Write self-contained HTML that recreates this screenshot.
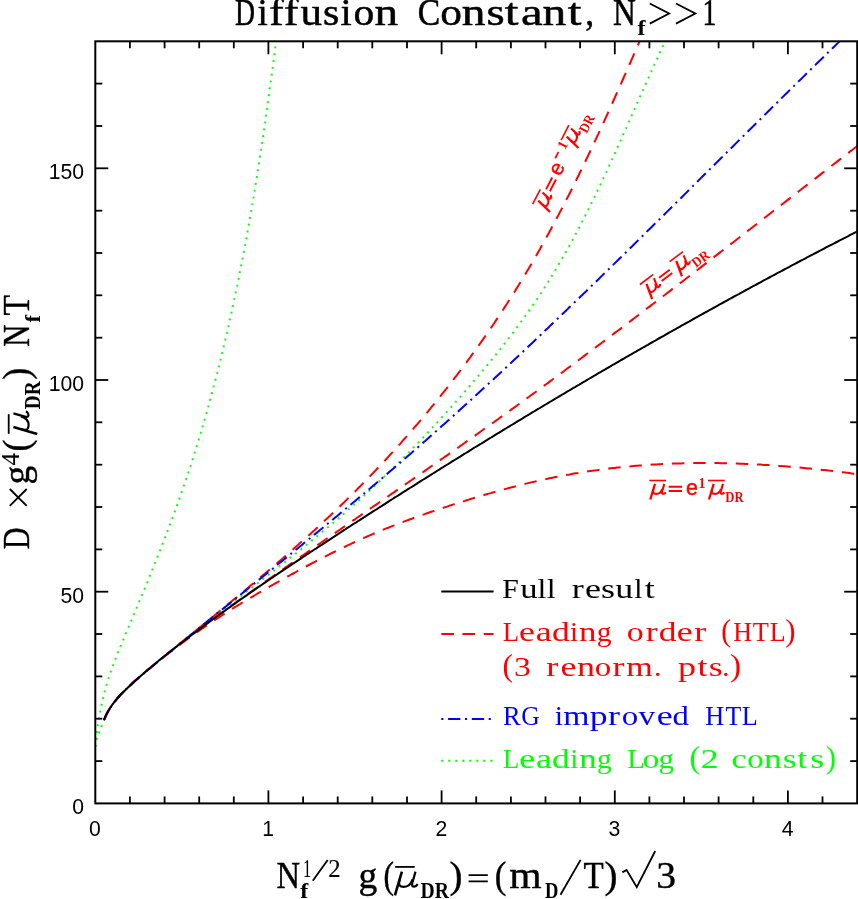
<!DOCTYPE html>
<html><head><meta charset="utf-8"><title>Diffusion Constant</title>
<style>html,body{margin:0;padding:0;background:#fff;overflow:hidden}svg{display:block;will-change:transform;transform:translateZ(0)}text{font-family:"Liberation Serif",serif}.s{font-family:"Liberation Sans",sans-serif}</style>
</head><body>
<svg width="858" height="899" viewBox="0 0 858 899">
<rect width="858" height="899" fill="#fff"/>
<defs><clipPath id="c"><rect x="95.3" y="41.29799999999989" width="766.8600000000001" height="762.1020000000001"/></clipPath></defs>
<g clip-path="url(#c)" fill="none" stroke-width="2">
<path d="M95.5,746.7 L95.6,744.9 L95.8,743.0 L96.0,741.1 L96.2,739.2 L96.4,737.3 L96.6,735.4 L96.8,733.6 L97.0,731.7 L97.3,729.8 L97.5,728.0 L97.8,726.1 L98.0,724.3 L98.3,722.4 L98.6,720.6 L98.9,718.8 L99.2,716.9 L99.5,715.1 L99.9,713.3 L100.2,711.5 L100.5,709.6 L100.9,707.8 L101.3,706.0 L101.7,704.2 L102.1,702.4 L102.5,700.6 L102.9,698.8 L103.3,697.0 L103.7,695.2 L104.2,693.4 L104.7,691.6 L105.1,689.8 L105.6,688.0 L106.1,686.3 L106.6,684.5 L107.2,682.7 L107.7,680.9 L108.2,679.2 L108.8,677.4 L109.4,675.6 L110.0,673.9 L110.6,672.1 L111.2,670.3 L111.8,668.6 L112.4,666.8 L113.1,665.1 L113.7,663.3 L114.4,661.6 L115.1,659.8 L115.8,658.1 L116.4,656.3 L117.1,654.6 L117.8,652.8 L118.5,651.1 L119.3,649.4 L120.0,647.6 L120.7,645.9 L121.4,644.1 L122.1,642.4 L122.9,640.7 L123.6,638.9 L124.3,637.2 L125.0,635.5 L125.8,633.7 L126.5,632.0 L127.2,630.3 L128.0,628.6 L128.7,626.8 L129.4,625.1 L130.1,623.4 L130.9,621.7 L131.6,619.9 L132.3,618.2 L133.0,616.5 L133.8,614.7 L134.5,613.0 L135.2,611.3 L135.9,609.6 L136.7,607.8 L137.4,606.1 L138.1,604.4 L138.8,602.7 L139.6,600.9 L140.3,599.2 L141.0,597.5 L141.7,595.8 L142.4,594.0 L143.1,592.3 L143.8,590.6 L144.6,588.9 L145.3,587.1 L146.0,585.4 L146.7,583.7 L147.4,582.0 L148.1,580.2 L148.8,578.5 L149.5,576.8 L150.2,575.1 L150.9,573.3 L151.6,571.6 L152.3,569.9 L153.0,568.2 L153.7,566.4 L154.4,564.7 L155.1,563.0 L155.8,561.2 L156.5,559.5 L157.2,557.8 L157.9,556.1 L158.6,554.3 L159.2,552.6 L159.9,550.9 L160.6,549.1 L161.3,547.4 L162.0,545.7 L162.6,543.9 L163.3,542.2 L164.0,540.5 L164.6,538.7 L165.3,537.0 L166.0,535.3 L166.6,533.5 L167.3,531.8 L168.0,530.0 L168.6,528.3 L169.3,526.6 L169.9,524.8 L170.6,523.1 L171.2,521.3 L171.9,519.6 L172.5,517.9 L173.2,516.1 L173.8,514.4 L174.5,512.6 L175.1,510.9 L175.7,509.1 L176.4,507.4 L177.0,505.6 L177.6,503.9 L178.2,502.1 L178.9,500.4 L179.5,498.6 L180.1,496.9 L180.7,495.1 L181.3,493.3 L181.9,491.6 L182.5,489.8 L183.1,488.1 L183.7,486.3 L184.3,484.5 L184.9,482.8 L185.5,481.0 L186.1,479.3 L186.7,477.5 L187.3,475.7 L187.9,474.0 L188.5,472.2 L189.1,470.4 L189.6,468.6 L190.2,466.9 L190.8,465.1 L191.4,463.3 L191.9,461.6 L192.5,459.8 L193.1,458.0 L193.6,456.2 L194.2,454.5 L194.7,452.7 L195.3,450.9 L195.8,449.1 L196.4,447.3 L196.9,445.6 L197.5,443.8 L198.0,442.0 L198.6,440.2 L199.1,438.4 L199.6,436.6 L200.2,434.9 L200.7,433.1 L201.2,431.3 L201.8,429.5 L202.3,427.7 L202.8,425.9 L203.3,424.1 L203.8,422.3 L204.4,420.5 L204.9,418.7 L205.4,416.9 L205.9,415.1 L206.4,413.4 L206.9,411.6 L207.4,409.8 L207.9,408.0 L208.4,406.2 L208.9,404.4 L209.4,402.6 L209.9,400.8 L210.4,399.0 L210.9,397.2 L211.4,395.4 L211.9,393.6 L212.3,391.7 L212.8,389.9 L213.3,388.1 L213.8,386.3 L214.2,384.5 L214.7,382.7 L215.2,380.9 L215.7,379.1 L216.1,377.3 L216.6,375.5 L217.1,373.7 L217.5,371.9 L218.0,370.0 L218.4,368.2 L218.9,366.4 L219.3,364.6 L219.8,362.8 L220.2,361.0 L220.7,359.2 L221.1,357.3 L221.6,355.5 L222.0,353.7 L222.5,351.9 L222.9,350.1 L223.3,348.3 L223.8,346.4 L224.2,344.6 L224.6,342.8 L225.0,341.0 L225.5,339.1 L225.9,337.3 L226.3,335.5 L226.7,333.7 L227.2,331.9 L227.6,330.0 L228.0,328.2 L228.4,326.4 L228.8,324.6 L229.2,322.7 L229.6,320.9 L230.0,319.1 L230.5,317.2 L230.9,315.4 L231.3,313.6 L231.7,311.8 L232.1,309.9 L232.5,308.1 L232.8,306.3 L233.2,304.4 L233.6,302.6 L234.0,300.8 L234.4,298.9 L234.8,297.1 L235.2,295.3 L235.6,293.4 L235.9,291.6 L236.3,289.8 L236.7,287.9 L237.1,286.1 L237.5,284.3 L237.8,282.4 L238.2,280.6 L238.6,278.8 L238.9,276.9 L239.3,275.1 L239.7,273.3 L240.0,271.4 L240.4,269.6 L240.8,267.7 L241.1,265.9 L241.5,264.1 L241.8,262.2 L242.2,260.4 L242.6,258.5 L242.9,256.7 L243.3,254.9 L243.6,253.0 L244.0,251.2 L244.3,249.3 L244.6,247.5 L245.0,245.7 L245.3,243.8 L245.7,242.0 L246.0,240.1 L246.4,238.3 L246.7,236.5 L247.0,234.6 L247.4,232.8 L247.7,230.9 L248.0,229.1 L248.4,227.2 L248.7,225.4 L249.0,223.5 L249.3,221.7 L249.7,219.9 L250.0,218.0 L250.3,216.2 L250.6,214.3 L250.9,212.5 L251.3,210.6 L251.6,208.8 L251.9,206.9 L252.2,205.1 L252.5,203.2 L252.8,201.4 L253.1,199.6 L253.5,197.7 L253.8,195.9 L254.1,194.0 L254.4,192.2 L254.7,190.3 L255.0,188.5 L255.3,186.6 L255.6,184.8 L255.9,182.9 L256.2,181.1 L256.5,179.2 L256.8,177.4 L257.1,175.5 L257.4,173.7 L257.7,171.9 L258.0,170.0 L258.2,168.2 L258.5,166.3 L258.8,164.5 L259.1,162.6 L259.4,160.8 L259.7,158.9 L260.0,157.1 L260.3,155.2 L260.5,153.4 L260.8,151.5 L261.1,149.7 L261.4,147.8 L261.7,146.0 L261.9,144.1 L262.2,142.3 L262.5,140.4 L262.8,138.6 L263.0,136.8 L263.3,134.9 L263.6,133.1 L263.9,131.2 L264.1,129.4 L264.4,127.5 L264.7,125.7 L264.9,123.8 L265.2,122.0 L265.5,120.1 L265.7,118.3 L266.0,116.4 L266.2,114.6 L266.5,112.8 L266.8,110.9 L267.0,109.1 L267.3,107.2 L267.5,105.4 L267.8,103.5 L268.1,101.7 L268.3,99.8 L268.6,98.0 L268.8,96.1 L269.1,94.3 L269.3,92.5 L269.6,90.6 L269.8,88.8 L270.1,86.9 L270.3,85.1 L270.6,83.2 L270.8,81.4 L271.1,79.6 L271.3,77.7 L271.6,75.9 L271.8,74.0 L272.1,72.2 L272.3,70.3 L272.6,68.5 L272.8,66.7 L273.0,64.8 L273.3,63.0 L273.5,61.1 L273.8,59.3 L274.0,57.5 L274.2,55.6 L274.5,53.8 L274.7,52.0 L275.0,50.1 L275.2,48.3 L275.4,46.4 L275.7,44.6 L275.9,42.8 L276.1,40.9 L276.4,39.1 L276.6,37.3 L276.8,35.4 L277.1,33.6 L277.3,31.8 L277.5,29.9 L277.8,28.1" stroke="#0f0" stroke-dasharray="1.9 5.0" stroke-dashoffset="0.0" stroke-width="1.9"/>
<path d="M95.4,746.6 L95.5,744.4 L95.8,742.2 L96.4,739.9 L97.2,737.7 L98.0,735.4 L99.0,733.2 L99.9,730.9 L100.8,728.7 L101.6,726.5 L102.4,724.3 L103.3,722.1 L104.1,719.9 L105.1,717.8 L106.1,715.7 L107.1,713.6 L108.2,711.5 L109.3,709.5 L110.5,707.5 L111.8,705.5 L113.1,703.6 L114.5,701.7 L115.9,699.9 L117.4,698.1 L118.9,696.3 L120.5,694.6 L122.1,692.8 L123.8,691.2 L125.5,689.5 L127.2,687.9 L128.9,686.3 L130.7,684.7 L132.5,683.1 L134.2,681.6 L136.1,680.1 L137.9,678.5 L139.7,677.0 L141.5,675.5 L143.3,674.0 L145.1,672.5 L146.9,670.9 L148.7,669.4 L150.5,667.9 L152.3,666.4 L154.1,664.9 L155.9,663.4 L157.7,661.9 L159.5,660.5 L161.3,659.0 L163.1,657.5 L164.9,656.0 L166.7,654.5 L168.5,653.0 L170.3,651.5 L172.1,650.1 L173.9,648.6 L175.7,647.1 L177.5,645.7 L179.4,644.2 L181.2,642.7 L183.0,641.3 L184.8,639.8 L186.7,638.3 L188.5,636.9 L190.3,635.4 L192.2,634.0 L194.0,632.5 L195.9,631.0 L197.7,629.6 L199.6,628.1 L201.4,626.7 L203.3,625.2 L205.1,623.8 L207.0,622.3 L208.8,620.9 L210.7,619.4 L212.5,618.0 L214.4,616.6 L216.3,615.1 L218.1,613.7 L220.0,612.2 L221.9,610.8 L223.7,609.3 L225.6,607.9 L227.5,606.5 L229.3,605.0 L231.2,603.6 L233.1,602.1 L234.9,600.7 L236.8,599.3 L238.7,597.8 L240.6,596.4 L242.4,595.0 L244.3,593.5 L246.2,592.1 L248.1,590.6 L249.9,589.2 L251.8,587.7 L253.7,586.3 L255.6,584.9 L257.4,583.4 L259.3,582.0 L261.2,580.5 L263.0,579.1 L264.9,577.6 L266.8,576.2 L268.6,574.8 L270.5,573.3 L272.4,571.9 L274.3,570.4 L276.1,569.0 L278.0,567.5 L279.8,566.0 L281.7,564.6 L283.6,563.1 L285.4,561.7 L287.3,560.2 L289.1,558.8 L291.0,557.3 L292.8,555.8 L294.7,554.4 L296.5,552.9 L298.4,551.4 L300.2,550.0 L302.1,548.5 L303.9,547.0 L305.7,545.5 L307.6,544.1 L309.4,542.6 L311.2,541.1 L313.0,539.6 L314.9,538.1 L316.7,536.6 L318.5,535.1 L320.3,533.6 L322.1,532.1 L323.9,530.6 L325.7,529.1 L327.5,527.6 L329.3,526.1 L331.1,524.6 L332.9,523.1 L334.7,521.6 L336.5,520.0 L338.3,518.5 L340.0,517.0 L341.8,515.5 L343.6,513.9 L345.3,512.4 L347.1,510.9 L348.8,509.3 L350.6,507.8 L352.3,506.2 L354.1,504.7 L355.8,503.1 L357.6,501.5 L359.3,500.0 L361.0,498.4 L362.7,496.8 L364.5,495.3 L366.2,493.7 L367.9,492.1 L369.6,490.5 L371.3,488.9 L373.0,487.3 L374.7,485.8 L376.4,484.2 L378.1,482.6 L379.8,481.0 L381.5,479.3 L383.1,477.7 L384.8,476.1 L386.5,474.5 L388.2,472.9 L389.8,471.3 L391.5,469.6 L393.2,468.0 L394.8,466.4 L396.5,464.7 L398.1,463.1 L399.8,461.5 L401.4,459.8 L403.1,458.2 L404.7,456.5 L406.3,454.8 L408.0,453.2 L409.6,451.5 L411.2,449.9 L412.9,448.2 L414.5,446.5 L416.1,444.8 L417.7,443.2 L419.3,441.5 L421.0,439.8 L422.6,438.1 L424.2,436.4 L425.8,434.7 L427.4,433.0 L429.0,431.3 L430.6,429.6 L432.2,427.9 L433.8,426.2 L435.4,424.5 L437.0,422.7 L438.6,421.0 L440.1,419.3 L441.7,417.5 L443.3,415.8 L444.9,414.1 L446.5,412.3 L448.0,410.6 L449.6,408.8 L451.2,407.1 L452.8,405.3 L454.3,403.6 L455.9,401.8 L457.5,400.0 L459.0,398.3 L460.6,396.5 L462.1,394.7 L463.7,393.0 L465.3,391.2 L466.8,389.4 L468.4,387.6 L469.9,385.8 L471.5,384.0 L473.0,382.2 L474.5,380.4 L476.1,378.6 L477.6,376.8 L479.1,375.0 L480.7,373.2 L482.2,371.3 L483.7,369.5 L485.2,367.7 L486.8,365.8 L488.3,364.0 L489.8,362.2 L491.3,360.3 L492.8,358.5 L494.3,356.6 L495.8,354.8 L497.2,352.9 L498.7,351.1 L500.2,349.2 L501.7,347.3 L503.1,345.5 L504.6,343.6 L506.1,341.7 L507.5,339.8 L509.0,338.0 L510.4,336.1 L511.8,334.2 L513.3,332.3 L514.7,330.4 L516.1,328.5 L517.5,326.6 L518.9,324.7 L520.3,322.8 L521.7,320.9 L523.1,318.9 L524.5,317.0 L525.9,315.1 L527.3,313.2 L528.6,311.2 L530.0,309.3 L531.3,307.4 L532.7,305.4 L534.0,303.5 L535.3,301.5 L536.7,299.6 L538.0,297.6 L539.3,295.6 L540.6,293.7 L541.9,291.7 L543.1,289.7 L544.4,287.8 L545.7,285.8 L546.9,283.8 L548.2,281.8 L549.4,279.8 L550.7,277.8 L551.9,275.8 L553.1,273.8 L554.3,271.8 L555.5,269.8 L556.7,267.8 L557.9,265.8 L559.1,263.8 L560.3,261.8 L561.5,259.7 L562.6,257.7 L563.8,255.7 L565.0,253.7 L566.1,251.6 L567.2,249.6 L568.4,247.6 L569.5,245.5 L570.6,243.5 L571.8,241.4 L572.9,239.4 L574.0,237.3 L575.1,235.3 L576.2,233.2 L577.3,231.1 L578.4,229.1 L579.4,227.0 L580.5,225.0 L581.6,222.9 L582.6,220.8 L583.7,218.7 L584.8,216.7 L585.8,214.6 L586.9,212.5 L587.9,210.4 L588.9,208.3 L590.0,206.2 L591.0,204.1 L592.0,202.1 L593.1,200.0 L594.1,197.9 L595.1,195.8 L596.1,193.7 L597.1,191.6 L598.1,189.5 L599.1,187.4 L600.1,185.2 L601.1,183.1 L602.1,181.0 L603.1,178.9 L604.1,176.8 L605.1,174.7 L606.1,172.6 L607.1,170.4 L608.0,168.3 L609.0,166.2 L610.0,164.1 L611.0,162.0 L611.9,159.8 L612.9,157.7 L613.9,155.6 L614.8,153.4 L615.8,151.3 L616.7,149.2 L617.7,147.0 L618.7,144.9 L619.6,142.8 L620.6,140.6 L621.5,138.5 L622.5,136.4 L623.4,134.2 L624.4,132.1 L625.3,129.9 L626.3,127.8 L627.2,125.7 L628.2,123.5 L629.1,121.4 L630.1,119.2 L631.0,117.1 L632.0,114.9 L632.9,112.8 L633.9,110.6 L634.8,108.5 L635.8,106.3 L636.7,104.2 L637.7,102.0 L638.6,99.9 L639.6,97.7 L640.5,95.6 L641.5,93.4 L642.5,91.3 L643.4,89.1 L644.4,87.0 L645.3,84.8 L646.3,82.7 L647.2,80.5 L648.2,78.4 L649.2,76.2 L650.1,74.1 L651.1,71.9 L652.1,69.8 L653.1,67.6 L654.0,65.5 L655.0,63.3 L656.0,61.2 L657.0,59.0 L658.0,56.9 L658.9,54.7 L659.9,52.6 L660.9,50.4 L661.9,48.3 L662.9,46.1 L663.9,44.0 L664.9,41.8 L665.9,39.7 L667.0,37.5 L668.0,35.4 L669.0,33.2 L670.0,31.1 L671.0,29.0" stroke="#0f0" stroke-dasharray="1.9 5.0" stroke-dashoffset="0.0" stroke-width="1.9"/>
<path d="M104.1,720.0 L104.8,718.0 L105.7,715.9 L106.7,713.9 L107.7,712.0 L108.8,710.1 L109.9,708.2 L111.2,706.4 L112.4,704.5 L113.8,702.8 L115.1,701.0 L116.6,699.3 L118.0,697.6 L119.5,695.9 L121.1,694.3 L122.7,692.7 L124.2,691.1 L125.9,689.5 L127.5,687.9 L129.1,686.4 L130.8,684.9 L132.4,683.4 L134.1,681.8 L135.7,680.4 L137.4,678.9 L139.1,677.4 L140.8,676.0 L142.4,674.5 L144.1,673.1 L145.8,671.6 L147.5,670.2 L149.2,668.8 L150.9,667.3 L152.6,665.9 L154.3,664.5 L156.1,663.1 L157.8,661.7 L159.5,660.2 L161.2,658.8 L162.9,657.4 L164.7,656.0 L166.4,654.6 L168.1,653.1 L169.9,651.7 L171.6,650.3 L173.3,648.9 L175.1,647.5 L176.8,646.1 L178.5,644.6 L180.3,643.2 L182.0,641.8 L183.8,640.4 L185.5,639.0 L187.3,637.6 L189.0,636.2 L190.7,634.7 L192.5,633.3 L194.2,631.9 L195.9,630.5 L197.7,629.1 L199.4,627.7 L201.2,626.3 L202.9,624.8 L204.6,623.4 L206.4,622.0 L208.1,620.6 L209.8,619.2 L211.6,617.8 L213.3,616.4 L215.0,615.0 L216.8,613.5 L218.5,612.1 L220.2,610.7 L222.0,609.3 L223.7,607.9 L225.4,606.5 L227.1,605.1 L228.9,603.6 L230.6,602.2 L232.3,600.8 L234.0,599.4 L235.8,598.0 L237.5,596.5 L239.2,595.1 L240.9,593.7 L242.6,592.3 L244.3,590.9 L246.1,589.4 L247.8,588.0 L249.5,586.6 L251.2,585.1 L252.9,583.7 L254.6,582.3 L256.3,580.9 L258.0,579.4 L259.7,578.0 L261.4,576.6 L263.1,575.1 L264.8,573.7 L266.5,572.2 L268.2,570.8 L269.9,569.4 L271.6,567.9 L273.3,566.5 L275.0,565.0 L276.7,563.6 L278.4,562.1 L280.0,560.7 L281.7,559.2 L283.4,557.8 L285.1,556.3 L286.8,554.8 L288.4,553.4 L290.1,551.9 L291.8,550.4 L293.5,549.0 L295.1,547.5 L296.8,546.0 L298.5,544.6 L300.1,543.1 L301.8,541.6 L303.4,540.1 L305.1,538.6 L306.8,537.2 L308.4,535.7 L310.1,534.2 L311.7,532.7 L313.3,531.2 L315.0,529.7 L316.6,528.2 L318.3,526.7 L319.9,525.2 L321.5,523.7 L323.2,522.1 L324.8,520.6 L326.4,519.1 L328.1,517.6 L329.7,516.1 L331.3,514.5 L332.9,513.0 L334.5,511.5 L336.1,509.9 L337.8,508.4 L339.4,506.8 L341.0,505.3 L342.6,503.7 L344.2,502.2 L345.8,500.6 L347.4,499.1 L348.9,497.5 L350.5,495.9 L352.1,494.4 L353.7,492.8 L355.3,491.2 L356.9,489.6 L358.4,488.0 L360.0,486.5 L361.6,484.9 L363.1,483.3 L364.7,481.7 L366.3,480.1 L367.8,478.5 L369.4,476.9 L370.9,475.3 L372.5,473.6 L374.0,472.0 L375.6,470.4 L377.1,468.8 L378.6,467.2 L380.2,465.5 L381.7,463.9 L383.2,462.3 L384.8,460.6 L386.3,459.0 L387.8,457.3 L389.3,455.7 L390.8,454.0 L392.4,452.4 L393.9,450.7 L395.4,449.1 L396.9,447.4 L398.4,445.7 L399.9,444.1 L401.4,442.4 L402.8,440.7 L404.3,439.0 L405.8,437.4 L407.3,435.7 L408.8,434.0 L410.2,432.3 L411.7,430.6 L413.2,428.9 L414.6,427.2 L416.1,425.5 L417.6,423.8 L419.0,422.1 L420.5,420.4 L421.9,418.7 L423.3,417.0 L424.8,415.3 L426.2,413.5 L427.7,411.8 L429.1,410.1 L430.5,408.4 L431.9,406.6 L433.4,404.9 L434.8,403.2 L436.2,401.4 L437.6,399.7 L439.0,397.9 L440.4,396.2 L441.8,394.4 L443.2,392.7 L444.6,390.9 L446.0,389.2 L447.4,387.4 L448.7,385.6 L450.1,383.9 L451.5,382.1 L452.9,380.3 L454.2,378.6 L455.6,376.8 L457.0,375.0 L458.3,373.2 L459.7,371.4 L461.0,369.6 L462.4,367.8 L463.7,366.1 L465.0,364.3 L466.4,362.5 L467.7,360.7 L469.0,358.9 L470.4,357.1 L471.7,355.2 L473.0,353.4 L474.3,351.6 L475.6,349.8 L476.9,348.0 L478.2,346.2 L479.5,344.4 L480.8,342.5 L482.1,340.7 L483.4,338.9 L484.6,337.0 L485.9,335.2 L487.2,333.4 L488.5,331.5 L489.7,329.7 L491.0,327.8 L492.3,326.0 L493.5,324.2 L494.8,322.3 L496.0,320.4 L497.2,318.6 L498.5,316.7 L499.7,314.9 L500.9,313.0 L502.2,311.2 L503.4,309.3 L504.6,307.4 L505.8,305.5 L507.0,303.7 L508.2,301.8 L509.4,299.9 L510.6,298.0 L511.8,296.2 L513.0,294.3 L514.2,292.4 L515.4,290.5 L516.5,288.6 L517.7,286.7 L518.9,284.8 L520.0,282.9 L521.2,281.0 L522.3,279.1 L523.5,277.2 L524.6,275.3 L525.8,273.4 L526.9,271.5 L528.1,269.6 L529.2,267.7 L530.3,265.8 L531.4,263.9 L532.5,261.9 L533.7,260.0 L534.8,258.1 L535.9,256.2 L537.0,254.3 L538.1,252.3 L539.2,250.4 L540.3,248.5 L541.3,246.5 L542.4,244.6 L543.5,242.7 L544.6,240.7 L545.7,238.8 L546.7,236.8 L547.8,234.9 L548.9,232.9 L549.9,231.0 L551.0,229.1 L552.0,227.1 L553.1,225.1 L554.1,223.2 L555.2,221.2 L556.2,219.3 L557.2,217.3 L558.3,215.4 L559.3,213.4 L560.3,211.4 L561.4,209.5 L562.4,207.5 L563.4,205.5 L564.4,203.5 L565.4,201.6 L566.4,199.6 L567.5,197.6 L568.5,195.6 L569.5,193.7 L570.5,191.7 L571.5,189.7 L572.5,187.7 L573.4,185.7 L574.4,183.7 L575.4,181.7 L576.4,179.8 L577.4,177.8 L578.4,175.8 L579.3,173.8 L580.3,171.8 L581.3,169.8 L582.3,167.8 L583.2,165.8 L584.2,163.8 L585.2,161.8 L586.1,159.8 L587.1,157.8 L588.1,155.7 L589.0,153.7 L590.0,151.7 L590.9,149.7 L591.9,147.7 L592.8,145.7 L593.8,143.7 L594.7,141.6 L595.7,139.6 L596.6,137.6 L597.5,135.6 L598.5,133.6 L599.4,131.5 L600.3,129.5 L601.3,127.5 L602.2,125.5 L603.1,123.4 L604.1,121.4 L605.0,119.4 L605.9,117.3 L606.9,115.3 L607.8,113.3 L608.7,111.2 L609.6,109.2 L610.5,107.1 L611.5,105.1 L612.4,103.1 L613.3,101.0 L614.2,99.0 L615.1,96.9 L616.0,94.9 L617.0,92.8 L617.9,90.8 L618.8,88.7 L619.7,86.7 L620.6,84.6 L621.5,82.6 L622.4,80.5 L623.3,78.5 L624.2,76.4 L625.1,74.4 L626.1,72.3 L627.0,70.2 L627.9,68.2 L628.8,66.1 L629.7,64.1 L630.6,62.0 L631.5,59.9 L632.4,57.9 L633.3,55.8 L634.2,53.7 L635.1,51.7 L636.0,49.6 L636.9,47.5 L637.8,45.5 L638.7,43.4 L639.6,41.3 L640.5,39.3 L641.4,37.2 L642.3,35.1 L643.2,33.0 L644.1,31.0 L645.0,28.9" stroke="#f00" stroke-dasharray="12.5 8.8" stroke-dashoffset="0.3"/>
<path d="M104.0,720.0 L104.9,717.8 L105.9,715.7 L106.9,713.5 L108.1,711.5 L109.3,709.4 L110.6,707.4 L111.9,705.5 L113.3,703.6 L114.8,701.7 L116.3,699.8 L117.8,698.0 L119.4,696.2 L121.0,694.4 L122.7,692.6 L124.3,690.9 L126.0,689.2 L127.7,687.5 L129.4,685.8 L131.2,684.2 L132.9,682.6 L134.7,681.0 L136.5,679.4 L138.3,677.8 L140.1,676.2 L141.9,674.7 L143.8,673.1 L145.6,671.6 L147.5,670.1 L149.3,668.6 L151.2,667.0 L153.1,665.5 L154.9,664.0 L156.8,662.5 L158.7,661.0 L160.6,659.5 L162.4,658.0 L164.3,656.5 L166.2,655.0 L168.1,653.5 L170.0,652.0 L171.9,650.5 L173.8,649.0 L175.7,647.5 L177.5,646.1 L179.4,644.6 L181.3,643.1 L183.2,641.6 L185.1,640.2 L187.0,638.7 L188.9,637.2 L190.9,635.8 L192.8,634.3 L194.7,632.9 L196.6,631.4 L198.5,630.0 L200.4,628.5 L202.3,627.1 L204.2,625.7 L206.1,624.2 L208.1,622.8 L210.0,621.4 L211.9,620.0 L213.8,618.6 L215.7,617.1 L217.7,615.7 L219.6,614.3 L221.5,612.9 L223.4,611.5 L225.4,610.1 L227.3,608.7 L229.2,607.3 L231.2,606.0 L233.1,604.6 L235.0,603.2 L237.0,601.8 L238.9,600.4 L240.8,599.0 L242.8,597.6 L244.7,596.3 L246.7,594.9 L248.6,593.5 L250.5,592.1 L252.5,590.7 L254.4,589.4 L256.4,588.0 L258.3,586.6 L260.3,585.2 L262.2,583.8 L264.2,582.5 L266.1,581.1 L268.1,579.7 L270.0,578.3 L272.0,577.0 L273.9,575.6 L275.9,574.2 L277.8,572.9 L279.8,571.5 L281.7,570.1 L283.7,568.7 L285.6,567.4 L287.6,566.0 L289.6,564.6 L291.5,563.3 L293.5,561.9 L295.4,560.5 L297.4,559.2 L299.4,557.8 L301.3,556.4 L303.3,555.0 L305.3,553.7 L307.2,552.3 L309.2,550.9 L311.1,549.6 L313.1,548.2 L315.1,546.8 L317.0,545.5 L319.0,544.1 L321.0,542.8 L322.9,541.4 L324.9,540.0 L326.9,538.7 L328.8,537.3 L330.8,535.9 L332.8,534.6 L334.7,533.2 L336.7,531.8 L338.7,530.5 L340.7,529.1 L342.6,527.7 L344.6,526.4 L346.6,525.0 L348.5,523.7 L350.5,522.3 L352.5,520.9 L354.5,519.6 L356.4,518.2 L358.4,516.8 L360.4,515.5 L362.3,514.1 L364.3,512.8 L366.3,511.4 L368.3,510.0 L370.2,508.7 L372.2,507.3 L374.2,505.9 L376.2,504.6 L378.1,503.2 L380.1,501.8 L382.1,500.5 L384.0,499.1 L386.0,497.7 L388.0,496.4 L390.0,495.0 L391.9,493.6 L393.9,492.3 L395.9,490.9 L397.9,489.5 L399.8,488.2 L401.8,486.8 L403.8,485.4 L405.7,484.1 L407.7,482.7 L409.7,481.3 L411.7,480.0 L413.6,478.6 L415.6,477.2 L417.6,475.9 L419.5,474.5 L421.5,473.1 L423.5,471.8 L425.5,470.4 L427.4,469.0 L429.4,467.6 L431.4,466.3 L433.3,464.9 L435.3,463.5 L437.3,462.1 L439.2,460.8 L441.2,459.4 L443.2,458.0 L445.1,456.6 L447.1,455.3 L449.1,453.9 L451.0,452.5 L453.0,451.1 L455.0,449.7 L456.9,448.4 L458.9,447.0 L460.8,445.6 L462.8,444.2 L464.8,442.8 L466.7,441.4 L468.7,440.1 L470.6,438.7 L472.6,437.3 L474.6,435.9 L476.5,434.5 L478.5,433.1 L480.4,431.7 L482.4,430.3 L484.3,428.9 L486.3,427.6 L488.2,426.2 L490.2,424.8 L492.1,423.4 L494.1,422.0 L496.0,420.6 L498.0,419.2 L499.9,417.8 L501.9,416.4 L503.8,415.0 L505.8,413.6 L507.7,412.2 L509.7,410.8 L511.6,409.4 L513.5,408.0 L515.5,406.6 L517.4,405.2 L519.4,403.8 L521.3,402.3 L523.2,400.9 L525.2,399.5 L527.1,398.1 L529.1,396.7 L531.0,395.3 L532.9,393.9 L534.9,392.5 L536.8,391.1 L538.7,389.6 L540.7,388.2 L542.6,386.8 L544.5,385.4 L546.5,384.0 L548.4,382.6 L550.3,381.1 L552.2,379.7 L554.2,378.3 L556.1,376.9 L558.0,375.4 L559.9,374.0 L561.9,372.6 L563.8,371.2 L565.7,369.7 L567.6,368.3 L569.6,366.9 L571.5,365.5 L573.4,364.0 L575.3,362.6 L577.2,361.2 L579.2,359.7 L581.1,358.3 L583.0,356.9 L584.9,355.4 L586.8,354.0 L588.8,352.6 L590.7,351.1 L592.6,349.7 L594.5,348.3 L596.4,346.8 L598.3,345.4 L600.2,344.0 L602.2,342.5 L604.1,341.1 L606.0,339.6 L607.9,338.2 L609.8,336.8 L611.7,335.3 L613.6,333.9 L615.5,332.4 L617.4,331.0 L619.4,329.6 L621.3,328.1 L623.2,326.7 L625.1,325.2 L627.0,323.8 L628.9,322.3 L630.8,320.9 L632.7,319.4 L634.6,318.0 L636.5,316.5 L638.4,315.1 L640.3,313.6 L642.2,312.2 L644.1,310.7 L646.0,309.3 L647.9,307.8 L649.8,306.4 L651.7,304.9 L653.6,303.5 L655.5,302.0 L657.4,300.6 L659.3,299.1 L661.2,297.7 L663.1,296.2 L665.0,294.8 L666.9,293.3 L668.8,291.9 L670.7,290.4 L672.6,288.9 L674.5,287.5 L676.4,286.0 L678.3,284.6 L680.2,283.1 L682.1,281.7 L684.0,280.2 L685.9,278.7 L687.8,277.3 L689.7,275.8 L691.6,274.4 L693.5,272.9 L695.4,271.4 L697.3,270.0 L699.2,268.5 L701.1,267.1 L703.0,265.6 L704.9,264.1 L706.8,262.7 L708.7,261.2 L710.6,259.7 L712.5,258.3 L714.3,256.8 L716.2,255.4 L718.1,253.9 L720.0,252.4 L721.9,251.0 L723.8,249.5 L725.7,248.0 L727.6,246.6 L729.5,245.1 L731.4,243.6 L733.3,242.2 L735.2,240.7 L737.1,239.2 L739.0,237.8 L740.8,236.3 L742.7,234.8 L744.6,233.4 L746.5,231.9 L748.4,230.4 L750.3,229.0 L752.2,227.5 L754.1,226.0 L756.0,224.6 L757.9,223.1 L759.8,221.6 L761.7,220.2 L763.5,218.7 L765.4,217.2 L767.3,215.8 L769.2,214.3 L771.1,212.8 L773.0,211.3 L774.9,209.9 L776.8,208.4 L778.7,206.9 L780.6,205.5 L782.5,204.0 L784.4,202.5 L786.2,201.1 L788.1,199.6 L790.0,198.1 L791.9,196.7 L793.8,195.2 L795.7,193.7 L797.6,192.2 L799.5,190.8 L801.4,189.3 L803.3,187.8 L805.2,186.4 L807.1,184.9 L809.0,183.4 L810.9,182.0 L812.7,180.5 L814.6,179.0 L816.5,177.6 L818.4,176.1 L820.3,174.6 L822.2,173.1 L824.1,171.7 L826.0,170.2 L827.9,168.7 L829.8,167.3 L831.7,165.8 L833.6,164.3 L835.5,162.9 L837.4,161.4 L839.3,159.9 L841.2,158.5 L843.1,157.0 L845.0,155.5 L846.9,154.1 L848.8,152.6 L850.6,151.1 L852.5,149.7 L854.4,148.2 L856.3,146.7 L858.2,145.3 L860.1,143.8 L862.0,142.3" stroke="#f00" stroke-dasharray="12.5 8.8" stroke-dashoffset="20.4"/>
<path d="M104.0,720.0 L104.8,718.1 L105.6,716.2 L106.6,714.4 L107.5,712.5 L108.5,710.7 L109.6,709.0 L110.7,707.2 L111.9,705.5 L113.1,703.9 L114.3,702.2 L115.6,700.6 L116.9,699.0 L118.2,697.4 L119.6,695.8 L121.0,694.3 L122.4,692.8 L123.9,691.3 L125.3,689.8 L126.8,688.3 L128.3,686.9 L129.8,685.4 L131.4,684.0 L132.9,682.6 L134.5,681.2 L136.0,679.8 L137.6,678.4 L139.2,677.1 L140.8,675.7 L142.4,674.4 L144.0,673.0 L145.6,671.7 L147.2,670.3 L148.8,669.0 L150.4,667.7 L152.0,666.4 L153.6,665.1 L155.3,663.7 L156.9,662.4 L158.5,661.1 L160.1,659.8 L161.8,658.6 L163.4,657.3 L165.1,656.0 L166.7,654.7 L168.3,653.4 L170.0,652.2 L171.6,650.9 L173.3,649.6 L175.0,648.4 L176.6,647.1 L178.3,645.8 L180.0,644.6 L181.6,643.3 L183.3,642.1 L185.0,640.9 L186.7,639.6 L188.3,638.4 L190.0,637.2 L191.7,635.9 L193.4,634.7 L195.1,633.5 L196.8,632.3 L198.5,631.1 L200.2,629.9 L201.9,628.7 L203.6,627.6 L205.3,626.4 L207.0,625.2 L208.7,624.0 L210.5,622.9 L212.2,621.7 L213.9,620.6 L215.6,619.4 L217.4,618.3 L219.1,617.2 L220.8,616.1 L222.6,614.9 L224.3,613.8 L226.0,612.7 L227.8,611.6 L229.5,610.5 L231.3,609.4 L233.0,608.3 L234.8,607.2 L236.6,606.2 L238.3,605.1 L240.1,604.0 L241.8,602.9 L243.6,601.9 L245.4,600.8 L247.1,599.7 L248.9,598.7 L250.7,597.6 L252.5,596.6 L254.3,595.5 L256.0,594.5 L257.8,593.4 L259.6,592.4 L261.4,591.4 L263.2,590.3 L265.0,589.3 L266.8,588.3 L268.6,587.2 L270.4,586.2 L272.2,585.2 L274.0,584.2 L275.8,583.1 L277.6,582.1 L279.5,581.1 L281.3,580.1 L283.1,579.0 L284.9,578.0 L286.7,577.0 L288.6,576.0 L290.4,575.0 L292.2,574.0 L294.1,573.0 L295.9,572.0 L297.7,571.0 L299.6,570.0 L301.4,569.0 L303.3,568.0 L305.1,567.0 L306.9,566.0 L308.8,565.0 L310.7,564.0 L312.5,563.0 L314.4,562.1 L316.2,561.1 L318.1,560.1 L319.9,559.2 L321.8,558.2 L323.7,557.2 L325.5,556.3 L327.4,555.3 L329.3,554.4 L331.2,553.4 L333.0,552.5 L334.9,551.6 L336.8,550.6 L338.7,549.7 L340.6,548.8 L342.5,547.9 L344.3,547.0 L346.2,546.1 L348.1,545.2 L350.0,544.3 L351.9,543.4 L353.8,542.5 L355.7,541.6 L357.6,540.8 L359.5,539.9 L361.4,539.0 L363.3,538.2 L365.2,537.3 L367.1,536.5 L369.1,535.7 L371.0,534.8 L372.9,534.0 L374.8,533.2 L376.7,532.4 L378.6,531.6 L380.6,530.8 L382.5,530.0 L384.4,529.2 L386.4,528.4 L388.3,527.7 L390.2,526.9 L392.1,526.1 L394.1,525.4 L396.0,524.6 L398.0,523.9 L399.9,523.1 L401.8,522.4 L403.8,521.6 L405.7,520.9 L407.7,520.2 L409.6,519.5 L411.6,518.8 L413.5,518.0 L415.5,517.3 L417.4,516.6 L419.4,515.9 L421.3,515.2 L423.3,514.6 L425.3,513.9 L427.2,513.2 L429.2,512.5 L431.2,511.8 L433.1,511.2 L435.1,510.5 L437.1,509.8 L439.0,509.2 L441.0,508.5 L443.0,507.9 L444.9,507.2 L446.9,506.6 L448.9,505.9 L450.9,505.3 L452.9,504.6 L454.8,504.0 L456.8,503.4 L458.8,502.7 L460.8,502.1 L462.8,501.5 L464.8,500.9 L466.8,500.2 L468.8,499.6 L470.7,499.0 L472.7,498.4 L474.7,497.8 L476.7,497.2 L478.7,496.6 L480.7,496.0 L482.7,495.4 L484.7,494.8 L486.7,494.2 L488.7,493.6 L490.7,493.1 L492.8,492.5 L494.8,491.9 L496.8,491.4 L498.8,490.8 L500.8,490.2 L502.8,489.7 L504.8,489.1 L506.8,488.6 L508.8,488.0 L510.9,487.5 L512.9,487.0 L514.9,486.5 L516.9,485.9 L518.9,485.4 L521.0,484.9 L523.0,484.4 L525.0,483.9 L527.0,483.4 L529.1,482.9 L531.1,482.4 L533.1,481.9 L535.2,481.5 L537.2,481.0 L539.2,480.5 L541.2,480.1 L543.3,479.6 L545.3,479.2 L547.3,478.8 L549.4,478.3 L551.4,477.9 L553.5,477.5 L555.5,477.1 L557.5,476.7 L559.6,476.3 L561.6,475.9 L563.7,475.5 L565.7,475.1 L567.8,474.7 L569.8,474.4 L571.8,474.0 L573.9,473.6 L575.9,473.3 L578.0,473.0 L580.0,472.6 L582.1,472.3 L584.1,472.0 L586.2,471.6 L588.2,471.3 L590.3,471.0 L592.3,470.7 L594.4,470.4 L596.5,470.2 L598.5,469.9 L600.6,469.6 L602.6,469.3 L604.7,469.1 L606.7,468.8 L608.8,468.6 L610.9,468.3 L612.9,468.1 L615.0,467.9 L617.0,467.6 L619.1,467.4 L621.2,467.2 L623.2,467.0 L625.3,466.8 L627.4,466.6 L629.4,466.4 L631.5,466.2 L633.6,466.0 L635.6,465.8 L637.7,465.7 L639.8,465.5 L641.8,465.4 L643.9,465.2 L646.0,465.1 L648.0,464.9 L650.1,464.8 L652.2,464.6 L654.2,464.5 L656.3,464.4 L658.4,464.3 L660.5,464.2 L662.5,464.1 L664.6,464.0 L666.7,463.9 L668.8,463.8 L670.8,463.7 L672.9,463.6 L675.0,463.5 L677.1,463.5 L679.1,463.4 L681.2,463.4 L683.3,463.3 L685.4,463.3 L687.4,463.2 L689.5,463.2 L691.6,463.1 L693.7,463.1 L695.8,463.1 L697.8,463.1 L699.9,463.1 L702.0,463.1 L704.1,463.0 L706.2,463.0 L708.2,463.1 L710.3,463.1 L712.4,463.1 L714.5,463.1 L716.6,463.1 L718.6,463.1 L720.7,463.2 L722.8,463.2 L724.9,463.3 L727.0,463.3 L729.0,463.4 L731.1,463.4 L733.2,463.5 L735.3,463.5 L737.4,463.6 L739.4,463.7 L741.5,463.8 L743.6,463.8 L745.7,463.9 L747.8,464.0 L749.9,464.1 L751.9,464.2 L754.0,464.3 L756.1,464.4 L758.2,464.5 L760.3,464.6 L762.3,464.8 L764.4,464.9 L766.5,465.0 L768.6,465.1 L770.7,465.3 L772.8,465.4 L774.8,465.6 L776.9,465.7 L779.0,465.9 L781.1,466.0 L783.2,466.2 L785.2,466.3 L787.3,466.5 L789.4,466.7 L791.5,466.8 L793.6,467.0 L795.6,467.2 L797.7,467.4 L799.8,467.6 L801.9,467.8 L804.0,468.0 L806.0,468.2 L808.1,468.4 L810.2,468.6 L812.3,468.8 L814.3,469.0 L816.4,469.2 L818.5,469.4 L820.6,469.7 L822.7,469.9 L824.7,470.1 L826.8,470.3 L828.9,470.6 L831.0,470.8 L833.0,471.1 L835.1,471.3 L837.2,471.6 L839.3,471.8 L841.3,472.1 L843.4,472.3 L845.5,472.6 L847.5,472.8 L849.6,473.1 L851.7,473.4 L853.8,473.7 L855.8,473.9 L857.9,474.2 L860.0,474.5 L862.0,474.8" stroke="#f00" stroke-dasharray="12.5 8.8" stroke-dashoffset="20.3"/>
<path d="M104.0,720.1 L105.0,717.7 L106.1,715.3 L107.2,713.1 L108.4,710.8 L109.7,708.6 L111.1,706.5 L112.5,704.4 L114.0,702.4 L115.6,700.4 L117.2,698.4 L118.9,696.5 L120.6,694.6 L122.3,692.8 L124.1,691.0 L125.9,689.2 L127.8,687.4 L129.7,685.7 L131.6,684.0 L133.5,682.3 L135.4,680.6 L137.4,678.9 L139.4,677.2 L141.3,675.6 L143.3,673.9 L145.3,672.2 L147.2,670.6 L149.2,668.9 L151.2,667.3 L153.1,665.7 L155.1,664.0 L157.1,662.4 L159.1,660.7 L161.0,659.1 L163.0,657.5 L165.0,655.8 L167.0,654.2 L168.9,652.6 L170.9,651.0 L172.9,649.4 L174.9,647.7 L176.8,646.1 L178.8,644.5 L180.8,642.9 L182.8,641.3 L184.7,639.7 L186.7,638.1 L188.7,636.5 L190.7,634.8 L192.7,633.2 L194.6,631.6 L196.6,630.0 L198.6,628.4 L200.6,626.8 L202.6,625.2 L204.6,623.6 L206.5,622.0 L208.5,620.4 L210.5,618.8 L212.5,617.2 L214.5,615.6 L216.5,614.0 L218.4,612.4 L220.4,610.8 L222.4,609.2 L224.4,607.6 L226.4,606.0 L228.4,604.4 L230.4,602.8 L232.3,601.2 L234.3,599.6 L236.3,598.0 L238.3,596.4 L240.3,594.8 L242.3,593.2 L244.3,591.6 L246.3,590.0 L248.2,588.4 L250.2,586.8 L252.2,585.2 L254.2,583.6 L256.2,582.0 L258.2,580.4 L260.2,578.8 L262.2,577.2 L264.1,575.6 L266.1,574.0 L268.1,572.4 L270.1,570.8 L272.1,569.2 L274.1,567.5 L276.1,565.9 L278.0,564.3 L280.0,562.7 L282.0,561.1 L284.0,559.5 L286.0,557.9 L288.0,556.3 L290.0,554.6 L291.9,553.0 L293.9,551.4 L295.9,549.8 L297.9,548.2 L299.9,546.6 L301.9,544.9 L303.8,543.3 L305.8,541.7 L307.8,540.1 L309.8,538.5 L311.8,536.8 L313.7,535.2 L315.7,533.6 L317.7,532.0 L319.7,530.3 L321.7,528.7 L323.6,527.1 L325.6,525.5 L327.6,523.8 L329.6,522.2 L331.5,520.6 L333.5,518.9 L335.5,517.3 L337.5,515.7 L339.4,514.0 L341.4,512.4 L343.4,510.8 L345.3,509.1 L347.3,507.5 L349.3,505.8 L351.2,504.2 L353.2,502.6 L355.2,500.9 L357.1,499.3 L359.1,497.6 L361.1,496.0 L363.0,494.3 L365.0,492.7 L366.9,491.0 L368.9,489.4 L370.9,487.7 L372.8,486.1 L374.8,484.4 L376.7,482.8 L378.7,481.1 L380.6,479.4 L382.6,477.8 L384.5,476.1 L386.5,474.5 L388.4,472.8 L390.4,471.1 L392.3,469.5 L394.3,467.8 L396.2,466.1 L398.1,464.4 L400.1,462.8 L402.0,461.1 L403.9,459.4 L405.9,457.7 L407.8,456.1 L409.7,454.4 L411.7,452.7 L413.6,451.0 L415.5,449.3 L417.5,447.7 L419.4,446.0 L421.3,444.3 L423.2,442.6 L425.2,440.9 L427.1,439.2 L429.0,437.5 L430.9,435.8 L432.8,434.1 L434.7,432.4 L436.7,430.7 L438.6,429.0 L440.5,427.3 L442.4,425.6 L444.3,423.9 L446.2,422.2 L448.1,420.5 L450.0,418.8 L451.9,417.1 L453.8,415.4 L455.7,413.7 L457.6,411.9 L459.5,410.2 L461.4,408.5 L463.3,406.8 L465.2,405.1 L467.1,403.4 L469.0,401.6 L470.9,399.9 L472.8,398.2 L474.6,396.5 L476.5,394.7 L478.4,393.0 L480.3,391.3 L482.2,389.6 L484.1,387.8 L485.9,386.1 L487.8,384.4 L489.7,382.6 L491.6,380.9 L493.5,379.2 L495.3,377.4 L497.2,375.7 L499.1,373.9 L501.0,372.2 L502.8,370.5 L504.7,368.7 L506.6,367.0 L508.4,365.2 L510.3,363.5 L512.2,361.7 L514.0,360.0 L515.9,358.2 L517.8,356.5 L519.6,354.7 L521.5,353.0 L523.4,351.2 L525.2,349.5 L527.1,347.7 L528.9,346.0 L530.8,344.2 L532.7,342.5 L534.5,340.7 L536.4,338.9 L538.2,337.2 L540.1,335.4 L541.9,333.7 L543.8,331.9 L545.6,330.1 L547.5,328.4 L549.3,326.6 L551.2,324.8 L553.0,323.1 L554.9,321.3 L556.7,319.5 L558.6,317.8 L560.4,316.0 L562.2,314.2 L564.1,312.5 L565.9,310.7 L567.8,308.9 L569.6,307.1 L571.5,305.4 L573.3,303.6 L575.1,301.8 L577.0,300.0 L578.8,298.3 L580.6,296.5 L582.5,294.7 L584.3,292.9 L586.2,291.2 L588.0,289.4 L589.8,287.6 L591.7,285.8 L593.5,284.0 L595.3,282.3 L597.2,280.5 L599.0,278.7 L600.8,276.9 L602.6,275.1 L604.5,273.3 L606.3,271.5 L608.1,269.8 L610.0,268.0 L611.8,266.2 L613.6,264.4 L615.4,262.6 L617.3,260.8 L619.1,259.0 L620.9,257.2 L622.7,255.4 L624.6,253.7 L626.4,251.9 L628.2,250.1 L630.0,248.3 L631.9,246.5 L633.7,244.7 L635.5,242.9 L637.3,241.1 L639.1,239.3 L641.0,237.5 L642.8,235.7 L644.6,233.9 L646.4,232.1 L648.2,230.3 L650.1,228.5 L651.9,226.7 L653.7,224.9 L655.5,223.1 L657.3,221.3 L659.2,219.6 L661.0,217.8 L662.8,216.0 L664.6,214.2 L666.4,212.4 L668.2,210.6 L670.1,208.8 L671.9,207.0 L673.7,205.2 L675.5,203.4 L677.3,201.6 L679.1,199.8 L681.0,198.0 L682.8,196.2 L684.6,194.4 L686.4,192.6 L688.2,190.8 L690.0,188.9 L691.8,187.1 L693.7,185.3 L695.5,183.5 L697.3,181.7 L699.1,179.9 L700.9,178.1 L702.7,176.3 L704.5,174.5 L706.4,172.7 L708.2,170.9 L710.0,169.1 L711.8,167.3 L713.6,165.5 L715.4,163.7 L717.2,161.9 L719.1,160.1 L720.9,158.3 L722.7,156.5 L724.5,154.7 L726.3,152.9 L728.1,151.1 L729.9,149.3 L731.8,147.5 L733.6,145.7 L735.4,143.9 L737.2,142.1 L739.0,140.3 L740.8,138.5 L742.6,136.7 L744.5,134.9 L746.3,133.1 L748.1,131.3 L749.9,129.5 L751.7,127.7 L753.5,125.9 L755.4,124.1 L757.2,122.3 L759.0,120.5 L760.8,118.7 L762.6,116.9 L764.4,115.1 L766.3,113.3 L768.1,111.5 L769.9,109.7 L771.7,107.9 L773.5,106.1 L775.4,104.3 L777.2,102.5 L779.0,100.7 L780.8,98.9 L782.6,97.1 L784.5,95.3 L786.3,93.5 L788.1,91.7 L789.9,89.9 L791.7,88.1 L793.6,86.3 L795.4,84.5 L797.2,82.7 L799.0,80.9 L800.9,79.2 L802.7,77.4 L804.5,75.6 L806.3,73.8 L808.2,72.0 L810.0,70.2 L811.8,68.4 L813.6,66.6 L815.5,64.8 L817.3,63.0 L819.1,61.2 L821.0,59.5 L822.8,57.7 L824.6,55.9 L826.5,54.1 L828.3,52.3 L830.1,50.5 L832.0,48.7 L833.8,47.0 L835.6,45.2 L837.5,43.4 L839.3,41.6 L841.1,39.8 L843.0,38.0 L844.8,36.3 L846.6,34.5 L848.5,32.7 L850.3,30.9 L852.2,29.2" stroke="#00f" stroke-dasharray="12.2 4.8 2.0 4.7" stroke-dashoffset="3.0"/>
<path d="M104.0,720.2 L104.8,718.0 L105.7,715.8 L106.7,713.7 L107.8,711.7 L108.9,709.8 L110.1,707.8 L111.4,706.0 L112.7,704.1 L114.1,702.3 L115.5,700.6 L116.9,698.9 L118.4,697.2 L120.0,695.5 L121.5,693.9 L123.1,692.3 L124.7,690.7 L126.4,689.1 L128.0,687.5 L129.7,686.0 L131.4,684.4 L133.0,682.9 L134.7,681.3 L136.4,679.8 L138.1,678.3 L139.8,676.8 L141.5,675.3 L143.2,673.8 L144.9,672.3 L146.7,670.8 L148.4,669.3 L150.1,667.9 L151.9,666.4 L153.6,664.9 L155.4,663.5 L157.2,662.0 L158.9,660.6 L160.7,659.1 L162.5,657.7 L164.2,656.3 L166.0,654.9 L167.8,653.4 L169.6,652.0 L171.4,650.6 L173.2,649.2 L175.0,647.8 L176.8,646.4 L178.6,645.0 L180.4,643.6 L182.2,642.2 L184.0,640.8 L185.8,639.5 L187.7,638.1 L189.5,636.7 L191.3,635.3 L193.1,634.0 L194.9,632.6 L196.8,631.2 L198.6,629.9 L200.4,628.5 L202.2,627.1 L204.1,625.8 L205.9,624.4 L207.7,623.1 L209.6,621.7 L211.4,620.4 L213.3,619.0 L215.1,617.7 L216.9,616.4 L218.8,615.0 L220.6,613.7 L222.5,612.4 L224.3,611.1 L226.2,609.7 L228.0,608.4 L229.9,607.1 L231.7,605.8 L233.6,604.4 L235.4,603.1 L237.3,601.8 L239.1,600.5 L241.0,599.2 L242.9,597.9 L244.7,596.6 L246.6,595.3 L248.5,594.0 L250.3,592.7 L252.2,591.4 L254.1,590.1 L255.9,588.8 L257.8,587.5 L259.7,586.2 L261.5,585.0 L263.4,583.7 L265.3,582.4 L267.2,581.1 L269.0,579.8 L270.9,578.5 L272.8,577.3 L274.7,576.0 L276.6,574.7 L278.4,573.4 L280.3,572.2 L282.2,570.9 L284.1,569.6 L286.0,568.4 L287.9,567.1 L289.8,565.8 L291.6,564.6 L293.5,563.3 L295.4,562.1 L297.3,560.8 L299.2,559.6 L301.1,558.3 L303.0,557.0 L304.9,555.8 L306.8,554.5 L308.7,553.3 L310.6,552.0 L312.5,550.8 L314.4,549.5 L316.3,548.3 L318.2,547.0 L320.1,545.8 L322.0,544.6 L323.9,543.3 L325.8,542.1 L327.7,540.8 L329.6,539.6 L331.5,538.3 L333.4,537.1 L335.3,535.9 L337.2,534.6 L339.1,533.4 L341.0,532.2 L342.9,530.9 L344.8,529.7 L346.7,528.4 L348.6,527.2 L350.5,526.0 L352.4,524.7 L354.3,523.5 L356.3,522.3 L358.2,521.0 L360.1,519.8 L362.0,518.6 L363.9,517.4 L365.8,516.1 L367.7,514.9 L369.6,513.7 L371.6,512.4 L373.5,511.2 L375.4,510.0 L377.3,508.8 L379.2,507.5 L381.1,506.3 L383.0,505.1 L385.0,503.9 L386.9,502.6 L388.8,501.4 L390.7,500.2 L392.6,499.0 L394.5,497.7 L396.5,496.5 L398.4,495.3 L400.3,494.1 L402.2,492.9 L404.1,491.7 L406.1,490.4 L408.0,489.2 L409.9,488.0 L411.8,486.8 L413.8,485.6 L415.7,484.4 L417.6,483.1 L419.5,481.9 L421.5,480.7 L423.4,479.5 L425.3,478.3 L427.2,477.1 L429.2,475.9 L431.1,474.7 L433.0,473.5 L434.9,472.3 L436.9,471.0 L438.8,469.8 L440.7,468.6 L442.7,467.4 L444.6,466.2 L446.5,465.0 L448.5,463.8 L450.4,462.6 L452.3,461.4 L454.3,460.2 L456.2,459.0 L458.1,457.8 L460.1,456.6 L462.0,455.4 L463.9,454.2 L465.9,453.0 L467.8,451.8 L469.7,450.6 L471.7,449.4 L473.6,448.2 L475.5,447.0 L477.5,445.8 L479.4,444.7 L481.4,443.5 L483.3,442.3 L485.2,441.1 L487.2,439.9 L489.1,438.7 L491.1,437.5 L493.0,436.3 L494.9,435.1 L496.9,433.9 L498.8,432.8 L500.8,431.6 L502.7,430.4 L504.7,429.2 L506.6,428.0 L508.6,426.8 L510.5,425.7 L512.5,424.5 L514.4,423.3 L516.3,422.1 L518.3,420.9 L520.2,419.8 L522.2,418.6 L524.1,417.4 L526.1,416.2 L528.0,415.1 L530.0,413.9 L531.9,412.7 L533.9,411.5 L535.8,410.4 L537.8,409.2 L539.8,408.0 L541.7,406.8 L543.7,405.7 L545.6,404.5 L547.6,403.3 L549.5,402.2 L551.5,401.0 L553.4,399.8 L555.4,398.7 L557.3,397.5 L559.3,396.3 L561.3,395.2 L563.2,394.0 L565.2,392.9 L567.1,391.7 L569.1,390.5 L571.1,389.4 L573.0,388.2 L575.0,387.1 L576.9,385.9 L578.9,384.8 L580.9,383.6 L582.8,382.4 L584.8,381.3 L586.8,380.1 L588.7,379.0 L590.7,377.8 L592.7,376.7 L594.6,375.5 L596.6,374.4 L598.5,373.2 L600.5,372.1 L602.5,370.9 L604.4,369.8 L606.4,368.6 L608.4,367.5 L610.4,366.4 L612.3,365.2 L614.3,364.1 L616.3,362.9 L618.2,361.8 L620.2,360.6 L622.2,359.5 L624.2,358.4 L626.1,357.2 L628.1,356.1 L630.1,355.0 L632.0,353.8 L634.0,352.7 L636.0,351.6 L638.0,350.4 L639.9,349.3 L641.9,348.2 L643.9,347.0 L645.9,345.9 L647.9,344.8 L649.8,343.6 L651.8,342.5 L653.8,341.4 L655.8,340.3 L657.7,339.1 L659.7,338.0 L661.7,336.9 L663.7,335.8 L665.7,334.6 L667.7,333.5 L669.6,332.4 L671.6,331.3 L673.6,330.2 L675.6,329.1 L677.6,327.9 L679.6,326.8 L681.5,325.7 L683.5,324.6 L685.5,323.5 L687.5,322.4 L689.5,321.3 L691.5,320.1 L693.5,319.0 L695.4,317.9 L697.4,316.8 L699.4,315.7 L701.4,314.6 L703.4,313.5 L705.4,312.4 L707.4,311.3 L709.4,310.2 L711.4,309.1 L713.4,308.0 L715.4,306.9 L717.3,305.8 L719.3,304.7 L721.3,303.6 L723.3,302.5 L725.3,301.4 L727.3,300.3 L729.3,299.2 L731.3,298.1 L733.3,297.0 L735.3,295.9 L737.3,294.8 L739.3,293.8 L741.3,292.7 L743.3,291.6 L745.3,290.5 L747.3,289.4 L749.3,288.3 L751.3,287.2 L753.3,286.1 L755.3,285.1 L757.3,284.0 L759.3,282.9 L761.3,281.8 L763.3,280.7 L765.3,279.7 L767.3,278.6 L769.3,277.5 L771.3,276.4 L773.3,275.4 L775.3,274.3 L777.3,273.2 L779.3,272.1 L781.4,271.1 L783.4,270.0 L785.4,268.9 L787.4,267.9 L789.4,266.8 L791.4,265.7 L793.4,264.7 L795.4,263.6 L797.4,262.5 L799.4,261.5 L801.4,260.4 L803.5,259.4 L805.5,258.3 L807.5,257.2 L809.5,256.2 L811.5,255.1 L813.5,254.1 L815.5,253.0 L817.6,252.0 L819.6,250.9 L821.6,249.9 L823.6,248.8 L825.6,247.7 L827.6,246.7 L829.6,245.7 L831.7,244.6 L833.7,243.6 L835.7,242.5 L837.7,241.5 L839.7,240.4 L841.8,239.4 L843.8,238.3 L845.8,237.3 L847.8,236.3 L849.8,235.2 L851.9,234.2 L853.9,233.1 L855.9,232.1 L857.9,231.1 L860.0,230.0 L862.0,229.0" stroke="#000"/>
</g>
<g stroke="#000" stroke-width="2" fill="none">
<rect x="95.3" y="41.3" width="761.9" height="762.1"/>
</g>
<g stroke="#000" stroke-width="1.8">
<line x1="129.9" y1="803.4" x2="129.9" y2="796.4"/>
<line x1="129.9" y1="41.3" x2="129.9" y2="48.3"/>
<line x1="164.6" y1="803.4" x2="164.6" y2="796.4"/>
<line x1="164.6" y1="41.3" x2="164.6" y2="48.3"/>
<line x1="199.2" y1="803.4" x2="199.2" y2="796.4"/>
<line x1="199.2" y1="41.3" x2="199.2" y2="48.3"/>
<line x1="233.8" y1="803.4" x2="233.8" y2="796.4"/>
<line x1="233.8" y1="41.3" x2="233.8" y2="48.3"/>
<line x1="268.4" y1="803.4" x2="268.4" y2="790.4"/>
<line x1="268.4" y1="41.3" x2="268.4" y2="54.3"/>
<line x1="303.1" y1="803.4" x2="303.1" y2="796.4"/>
<line x1="303.1" y1="41.3" x2="303.1" y2="48.3"/>
<line x1="337.7" y1="803.4" x2="337.7" y2="796.4"/>
<line x1="337.7" y1="41.3" x2="337.7" y2="48.3"/>
<line x1="372.3" y1="803.4" x2="372.3" y2="796.4"/>
<line x1="372.3" y1="41.3" x2="372.3" y2="48.3"/>
<line x1="407.0" y1="803.4" x2="407.0" y2="796.4"/>
<line x1="407.0" y1="41.3" x2="407.0" y2="48.3"/>
<line x1="441.6" y1="803.4" x2="441.6" y2="790.4"/>
<line x1="441.6" y1="41.3" x2="441.6" y2="54.3"/>
<line x1="476.2" y1="803.4" x2="476.2" y2="796.4"/>
<line x1="476.2" y1="41.3" x2="476.2" y2="48.3"/>
<line x1="510.9" y1="803.4" x2="510.9" y2="796.4"/>
<line x1="510.9" y1="41.3" x2="510.9" y2="48.3"/>
<line x1="545.5" y1="803.4" x2="545.5" y2="796.4"/>
<line x1="545.5" y1="41.3" x2="545.5" y2="48.3"/>
<line x1="580.1" y1="803.4" x2="580.1" y2="796.4"/>
<line x1="580.1" y1="41.3" x2="580.1" y2="48.3"/>
<line x1="614.8" y1="803.4" x2="614.8" y2="790.4"/>
<line x1="614.8" y1="41.3" x2="614.8" y2="54.3"/>
<line x1="649.4" y1="803.4" x2="649.4" y2="796.4"/>
<line x1="649.4" y1="41.3" x2="649.4" y2="48.3"/>
<line x1="684.0" y1="803.4" x2="684.0" y2="796.4"/>
<line x1="684.0" y1="41.3" x2="684.0" y2="48.3"/>
<line x1="718.6" y1="803.4" x2="718.6" y2="796.4"/>
<line x1="718.6" y1="41.3" x2="718.6" y2="48.3"/>
<line x1="753.3" y1="803.4" x2="753.3" y2="796.4"/>
<line x1="753.3" y1="41.3" x2="753.3" y2="48.3"/>
<line x1="787.9" y1="803.4" x2="787.9" y2="790.4"/>
<line x1="787.9" y1="41.3" x2="787.9" y2="54.3"/>
<line x1="822.5" y1="803.4" x2="822.5" y2="796.4"/>
<line x1="822.5" y1="41.3" x2="822.5" y2="48.3"/>
<line x1="95.3" y1="761.1" x2="102.3" y2="761.1"/>
<line x1="857.2" y1="761.1" x2="850.2" y2="761.1"/>
<line x1="95.3" y1="718.7" x2="102.3" y2="718.7"/>
<line x1="857.2" y1="718.7" x2="850.2" y2="718.7"/>
<line x1="95.3" y1="676.4" x2="102.3" y2="676.4"/>
<line x1="857.2" y1="676.4" x2="850.2" y2="676.4"/>
<line x1="95.3" y1="634.0" x2="102.3" y2="634.0"/>
<line x1="857.2" y1="634.0" x2="850.2" y2="634.0"/>
<line x1="95.3" y1="591.7" x2="108.3" y2="591.7"/>
<line x1="857.2" y1="591.7" x2="844.2" y2="591.7"/>
<line x1="95.3" y1="549.4" x2="102.3" y2="549.4"/>
<line x1="857.2" y1="549.4" x2="850.2" y2="549.4"/>
<line x1="95.3" y1="507.0" x2="102.3" y2="507.0"/>
<line x1="857.2" y1="507.0" x2="850.2" y2="507.0"/>
<line x1="95.3" y1="464.7" x2="102.3" y2="464.7"/>
<line x1="857.2" y1="464.7" x2="850.2" y2="464.7"/>
<line x1="95.3" y1="422.3" x2="102.3" y2="422.3"/>
<line x1="857.2" y1="422.3" x2="850.2" y2="422.3"/>
<line x1="95.3" y1="380.0" x2="108.3" y2="380.0"/>
<line x1="857.2" y1="380.0" x2="844.2" y2="380.0"/>
<line x1="95.3" y1="337.7" x2="102.3" y2="337.7"/>
<line x1="857.2" y1="337.7" x2="850.2" y2="337.7"/>
<line x1="95.3" y1="295.3" x2="102.3" y2="295.3"/>
<line x1="857.2" y1="295.3" x2="850.2" y2="295.3"/>
<line x1="95.3" y1="253.0" x2="102.3" y2="253.0"/>
<line x1="857.2" y1="253.0" x2="850.2" y2="253.0"/>
<line x1="95.3" y1="210.7" x2="102.3" y2="210.7"/>
<line x1="857.2" y1="210.7" x2="850.2" y2="210.7"/>
<line x1="95.3" y1="168.3" x2="108.3" y2="168.3"/>
<line x1="857.2" y1="168.3" x2="844.2" y2="168.3"/>
<line x1="95.3" y1="126.0" x2="102.3" y2="126.0"/>
<line x1="857.2" y1="126.0" x2="850.2" y2="126.0"/>
<line x1="95.3" y1="83.6" x2="102.3" y2="83.6"/>
<line x1="857.2" y1="83.6" x2="850.2" y2="83.6"/>
</g>
<g class="s" font-size="21.2" fill="#000">
<text class="s" x="95.0" y="835.8" text-anchor="middle">0</text>
<text class="s" x="268.1" y="835.8" text-anchor="middle">1</text>
<text class="s" x="441.3" y="835.8" text-anchor="middle">2</text>
<text class="s" x="614.5" y="835.8" text-anchor="middle">3</text>
<text class="s" x="787.6" y="835.8" text-anchor="middle">4</text>
<text class="s" x="84" y="814.3" text-anchor="end">0</text>
<text class="s" x="84" y="602.6" text-anchor="end">50</text>
<text class="s" x="84" y="390.9" text-anchor="end">100</text>
<text class="s" x="84" y="179.2" text-anchor="end">150</text>
</g>
<g fill="none" stroke-width="1.6">
<line x1="441.3" y1="591.6" x2="493.6" y2="591.6" stroke="#000" stroke-width="2"/>
<line x1="441.3" y1="633.9" x2="493.6" y2="633.9" stroke="#f00" stroke-width="2" stroke-dasharray="12.7 8.5"/>
<line x1="441.3" y1="718.9" x2="491.2" y2="718.9" stroke="#00f" stroke-width="2" stroke-dasharray="2.1 4.7 12.3 4.6"/>
<line x1="441.3" y1="760.8" x2="493" y2="760.8" stroke="#0f0" stroke-width="2" stroke-dasharray="2.1 4.9"/>
</g>
<text transform="translate(502.34,598.0) scale(1.054,1.0)" font-size="28.2" fill="#000">F</text>
<text transform="translate(520.24,598.0) scale(1.231,1.0)" font-size="28.2" fill="#000">u</text>
<text transform="translate(537.56,598.0) scale(1.133,1.0)" font-size="28.2" fill="#000">l</text>
<text transform="translate(546.86,598.0) scale(1.133,1.0)" font-size="28.2" fill="#000">l</text>
<text transform="translate(571.74,598.0) scale(1.280,1.0)" font-size="28.2" fill="#000">r</text>
<text transform="translate(584.91,598.0) scale(1.280,1.0)" font-size="28.2" fill="#000">e</text>
<text transform="translate(601.04,598.0) scale(1.280,1.0)" font-size="28.2" fill="#000">s</text>
<text transform="translate(615.23,598.0) scale(1.276,1.0)" font-size="28.2" fill="#000">u</text>
<text transform="translate(634.31,598.0) scale(1.044,1.0)" font-size="28.2" fill="#000">l</text>
<text transform="translate(644.67,598.0) scale(1.280,1.0)" font-size="28.2" fill="#000">t</text>
<text transform="translate(502.83,641.1) scale(0.951,1.0)" font-size="28.2" fill="#f00">L</text>
<text transform="translate(519.00,641.1) scale(1.274,1.0)" font-size="28.2" fill="#f00">e</text>
<text transform="translate(535.75,641.1) scale(1.280,1.0)" font-size="28.2" fill="#f00">a</text>
<text transform="translate(551.91,641.1) scale(1.264,1.0)" font-size="28.2" fill="#f00">d</text>
<text transform="translate(570.08,641.1) scale(1.044,1.0)" font-size="28.2" fill="#f00">i</text>
<text transform="translate(579.00,641.1) scale(1.236,1.0)" font-size="28.2" fill="#f00">n</text>
<text transform="translate(596.72,641.1) scale(1.053,1.0)" font-size="28.2" fill="#f00">g</text>
<text transform="translate(626.81,641.1) scale(1.205,1.0)" font-size="28.2" fill="#f00">o</text>
<text transform="translate(645.74,641.1) scale(1.280,1.0)" font-size="28.2" fill="#f00">r</text>
<text transform="translate(658.72,641.1) scale(1.256,1.0)" font-size="28.2" fill="#f00">d</text>
<text transform="translate(676.70,641.1) scale(1.274,1.0)" font-size="28.2" fill="#f00">e</text>
<text transform="translate(694.29,641.1) scale(1.280,1.0)" font-size="28.2" fill="#f00">r</text>
<text transform="translate(721.30,641.1) scale(1.049,1.14)" font-size="28.2" fill="#f00">(</text>
<text transform="translate(733.15,641.1) scale(0.924,1.0)" font-size="28.2" fill="#f00">H</text>
<text transform="translate(752.82,641.1) scale(0.935,1.0)" font-size="28.2" fill="#f00">T</text>
<text transform="translate(769.85,641.1) scale(0.924,1.0)" font-size="28.2" fill="#f00">L</text>
<text transform="translate(785.31,641.1) scale(1.091,1.14)" font-size="28.2" fill="#f00">)</text>
<text transform="translate(502.51,676.3) scale(1.118,1.14)" font-size="28.2" fill="#f00">(</text>
<text transform="translate(513.88,676.3) scale(1.202,1.0)" font-size="28.2" fill="#f00">3</text>
<text transform="translate(546.34,676.3) scale(1.280,1.0)" font-size="28.2" fill="#f00">r</text>
<text transform="translate(560.51,676.3) scale(1.280,1.0)" font-size="28.2" fill="#f00">e</text>
<text transform="translate(576.93,676.3) scale(1.280,1.0)" font-size="28.2" fill="#f00">n</text>
<text transform="translate(594.64,676.3) scale(1.171,1.0)" font-size="28.2" fill="#f00">o</text>
<text transform="translate(612.44,676.3) scale(1.280,1.0)" font-size="28.2" fill="#f00">r</text>
<text transform="translate(626.28,676.3) scale(1.210,1.0)" font-size="28.2" fill="#f00">m</text>
<text transform="translate(653.78,676.3) scale(1.140,1.0)" font-size="28.2" fill="#f00">.</text>
<text transform="translate(677.99,676.3) scale(1.280,1.0)" font-size="28.2" fill="#f00">p</text>
<text transform="translate(697.42,676.3) scale(1.280,1.0)" font-size="28.2" fill="#f00">t</text>
<text transform="translate(708.84,676.3) scale(1.280,1.0)" font-size="28.2" fill="#f00">s</text>
<text transform="translate(722.09,676.3) scale(1.080,1.0)" font-size="28.2" fill="#f00">.</text>
<text transform="translate(729.92,676.3) scale(1.187,1.14)" font-size="28.2" fill="#f00">)</text>
<text transform="translate(503.04,725.4) scale(0.941,1.0)" font-size="28.2" fill="#00f">R</text>
<text transform="translate(521.15,725.4) scale(0.911,1.0)" font-size="28.2" fill="#00f">G</text>
<text transform="translate(554.67,725.4) scale(1.059,1.0)" font-size="28.2" fill="#00f">i</text>
<text transform="translate(563.19,725.4) scale(1.196,1.0)" font-size="28.2" fill="#00f">m</text>
<text transform="translate(589.82,725.4) scale(1.268,1.0)" font-size="28.2" fill="#00f">p</text>
<text transform="translate(607.94,725.4) scale(1.280,1.0)" font-size="28.2" fill="#00f">r</text>
<text transform="translate(621.64,725.4) scale(1.171,1.0)" font-size="28.2" fill="#00f">o</text>
<text transform="translate(638.60,725.4) scale(1.177,1.0)" font-size="28.2" fill="#00f">v</text>
<text transform="translate(656.71,725.4) scale(1.280,1.0)" font-size="28.2" fill="#00f">e</text>
<text transform="translate(672.42,725.4) scale(1.162,1.0)" font-size="28.2" fill="#00f">d</text>
<text transform="translate(705.14,725.4) scale(0.935,1.0)" font-size="28.2" fill="#00f">H</text>
<text transform="translate(725.53,725.4) scale(0.917,1.0)" font-size="28.2" fill="#00f">T</text>
<text transform="translate(741.84,725.4) scale(0.931,1.0)" font-size="28.2" fill="#00f">L</text>
<text transform="translate(503.03,767.9) scale(0.951,1.0)" font-size="28.2" fill="#0f0">L</text>
<text transform="translate(519.20,767.9) scale(1.274,1.0)" font-size="28.2" fill="#0f0">e</text>
<text transform="translate(535.95,767.9) scale(1.280,1.0)" font-size="28.2" fill="#0f0">a</text>
<text transform="translate(552.11,767.9) scale(1.264,1.0)" font-size="28.2" fill="#0f0">d</text>
<text transform="translate(570.28,767.9) scale(1.044,1.0)" font-size="28.2" fill="#0f0">i</text>
<text transform="translate(579.20,767.9) scale(1.236,1.0)" font-size="28.2" fill="#0f0">n</text>
<text transform="translate(596.92,767.9) scale(1.053,1.0)" font-size="28.2" fill="#0f0">g</text>
<text transform="translate(627.16,767.9) scale(1.033,1.0)" font-size="28.2" fill="#0f0">L</text>
<text transform="translate(642.61,767.9) scale(1.205,1.0)" font-size="28.2" fill="#0f0">o</text>
<text transform="translate(658.46,767.9) scale(1.109,1.0)" font-size="28.2" fill="#0f0">g</text>
<text transform="translate(689.48,767.9) scale(1.146,1.14)" font-size="28.2" fill="#0f0">(</text>
<text transform="translate(700.72,767.9) scale(1.274,1.0)" font-size="28.2" fill="#0f0">2</text>
<text transform="translate(731.59,767.9) scale(1.220,1.0)" font-size="28.2" fill="#0f0">c</text>
<text transform="translate(747.34,767.9) scale(1.171,1.0)" font-size="28.2" fill="#0f0">o</text>
<text transform="translate(763.88,767.9) scale(1.280,1.0)" font-size="28.2" fill="#0f0">n</text>
<text transform="translate(782.73,767.9) scale(1.273,1.0)" font-size="28.2" fill="#0f0">s</text>
<text transform="translate(797.32,767.9) scale(1.280,1.0)" font-size="28.2" fill="#0f0">t</text>
<text transform="translate(810.34,767.9) scale(1.280,1.0)" font-size="28.2" fill="#0f0">s</text>
<text transform="translate(825.93,767.9) scale(1.063,1.14)" font-size="28.2" fill="#0f0">)</text>
<text transform="translate(234.95,24.6) scale(0.720,1.0)" font-size="38.5" fill="#000" stroke="#000" stroke-width="0.5">D</text>
<text transform="translate(257.42,24.6) scale(0.961,1.0)" font-size="38.5" fill="#000" stroke="#000" stroke-width="0.5">i</text>
<text transform="translate(269.17,24.6) scale(1.126,1.0)" font-size="38.5" fill="#000" stroke="#000" stroke-width="0.5">f</text>
<text transform="translate(283.97,24.6) scale(1.126,1.0)" font-size="38.5" fill="#000" stroke="#000" stroke-width="0.5">f</text>
<text transform="translate(300.43,24.6) scale(1.117,1.0)" font-size="38.5" fill="#000" stroke="#000" stroke-width="0.5">u</text>
<text transform="translate(322.98,24.6) scale(1.091,1.0)" font-size="38.5" fill="#000" stroke="#000" stroke-width="0.5">s</text>
<text transform="translate(340.45,24.6) scale(1.049,1.0)" font-size="38.5" fill="#000" stroke="#000" stroke-width="0.5">i</text>
<text transform="translate(353.62,24.6) scale(1.079,1.0)" font-size="38.5" fill="#000" stroke="#000" stroke-width="0.5">o</text>
<text transform="translate(374.42,24.6) scale(1.226,1.0)" font-size="38.5" fill="#000" stroke="#000" stroke-width="0.5">n</text>
<text transform="translate(417.82,24.6) scale(0.874,1.0)" font-size="38.5" fill="#000" stroke="#000" stroke-width="0.5">C</text>
<text transform="translate(440.25,24.6) scale(1.128,1.0)" font-size="38.5" fill="#000" stroke="#000" stroke-width="0.5">o</text>
<text transform="translate(461.81,24.6) scale(1.231,1.0)" font-size="38.5" fill="#000" stroke="#000" stroke-width="0.5">n</text>
<text transform="translate(486.38,24.6) scale(1.215,1.0)" font-size="38.5" fill="#000" stroke="#000" stroke-width="0.5">s</text>
<text transform="translate(504.86,24.6) scale(1.280,1.0)" font-size="38.5" fill="#000" stroke="#000" stroke-width="0.5">t</text>
<text transform="translate(520.98,24.6) scale(1.269,1.0)" font-size="38.5" fill="#000" stroke="#000" stroke-width="0.5">a</text>
<text transform="translate(542.61,24.6) scale(1.231,1.0)" font-size="38.5" fill="#000" stroke="#000" stroke-width="0.5">n</text>
<text transform="translate(567.81,24.6) scale(1.280,1.0)" font-size="38.5" fill="#000" stroke="#000" stroke-width="0.5">t</text>
<text transform="translate(585.14,24.6) scale(0.924,1.0)" font-size="38.5" fill="#000" stroke="#000" stroke-width="0.5">,</text>
<text transform="translate(612.89,24.6) scale(0.821,1.0)" font-size="38.5" fill="#000" stroke="#000" stroke-width="0.5">N</text>
<text x="637.4" y="35" font-size="22" fill="#000" textLength="8.0" lengthAdjust="spacingAndGlyphs" font-weight="bold" xml:space="preserve">f</text>
<path d="M649.8,3.5 L669.1,13.5 L649.8,23.6 M676,3.5 L695.3,13.5 L676,23.6" fill="none" stroke="#000" stroke-width="1.8"/>
<text transform="translate(702.38,24.6) scale(0.720,1.0)" font-size="38.5" fill="#000" stroke="#000" stroke-width="0.5">1</text>
<defs><g id="MU" fill="none" stroke="#000" stroke-linejoin="round"><path d="M8.6,-16 L1.6,7.8" stroke-width="2.6"/><path d="M6.3,-8 C4.8,-2.2 6.4,-0.8 10.5,-0.8 C14.6,-0.8 17.8,-3.6 19.2,-8.4" stroke-width="2.2"/><path d="M22.2,-16 L19,-4.6 C18.2,-1.6 19.3,-0.9 20.8,-0.9 C22.3,-0.9 23.4,-1.8 24.4,-3.4" stroke-width="2.2"/><path d="M1.8,-20.7 H21.4" stroke-width="1.8"/></g></defs>
<text x="276.6" y="887.6" font-size="38.5" fill="#000" stroke="#000" stroke-width="0.4" textLength="23.6" lengthAdjust="spacingAndGlyphs"  xml:space="preserve">N</text>
<text x="300.2" y="898.1" font-size="22" fill="#000" textLength="8.0" lengthAdjust="spacingAndGlyphs" font-weight="bold" xml:space="preserve">f</text>
<text x="303.2" y="877.3000000000001" font-size="24.8" fill="#000" stroke="#000" stroke-width="0.15" textLength="7.8" lengthAdjust="spacingAndGlyphs"  xml:space="preserve">1</text>
<path d="M312.8,880.8 L327.7,859.9" stroke="#000" stroke-width="1.8"/>
<text x="328.2" y="877.3000000000001" font-size="24.8" fill="#000" stroke="#000" stroke-width="0.15" textLength="12.4" lengthAdjust="spacingAndGlyphs"  xml:space="preserve">2</text>
<text x="358.6" y="887.6" font-size="38.5" fill="#000" stroke="#000" stroke-width="0.4" textLength="18.8" lengthAdjust="spacingAndGlyphs"  xml:space="preserve">g</text>
<text x="383.5" y="887.6" font-size="38.5" fill="#000" stroke="#000" stroke-width="0.4" textLength="10.5" lengthAdjust="spacingAndGlyphs"  xml:space="preserve">(</text>
<use href="#MU" x="393.3" y="887.6"/>
<text x="420.6" y="898.1" font-size="23.6" fill="#000" textLength="28.4" lengthAdjust="spacingAndGlyphs" font-weight="bold" xml:space="preserve">DR</text>
<text x="449.5" y="887.6" font-size="38.5" fill="#000" stroke="#000" stroke-width="0.4" textLength="13.0" lengthAdjust="spacingAndGlyphs"  xml:space="preserve">)</text>
<path d="M468.6,875.1 H487.8 M468.6,881.4 H487.8" stroke="#000" stroke-width="1.8"/>
<text x="494.7" y="887.6" font-size="38.5" fill="#000" stroke="#000" stroke-width="0.4" textLength="11.6" lengthAdjust="spacingAndGlyphs"  xml:space="preserve">(</text>
<text x="509.2" y="887.6" font-size="38.5" fill="#000" stroke="#000" stroke-width="0.4" textLength="32.4" lengthAdjust="spacingAndGlyphs"  xml:space="preserve">m</text>
<text x="545.0" y="898.1" font-size="23.6" fill="#000" textLength="13.4" lengthAdjust="spacingAndGlyphs" font-weight="bold" xml:space="preserve">D</text>
<path d="M560.5,894.8 L580.6,859.9" stroke="#000" stroke-width="1.8"/>
<text x="583.6" y="887.6" font-size="38.5" fill="#000" stroke="#000" stroke-width="0.4" textLength="20.2" lengthAdjust="spacingAndGlyphs"  xml:space="preserve">T</text>
<text x="604.5" y="887.6" font-size="38.5" fill="#000" stroke="#000" stroke-width="0.4" textLength="13.0" lengthAdjust="spacingAndGlyphs"  xml:space="preserve">)</text>
<path d="M622.4,872.4 L626.6,870.0 L636.8,887.2 L655.2,851.0" fill="none" stroke="#000" stroke-width="1.8" stroke-linejoin="miter"/>
<text x="656.2" y="887.6" font-size="38.5" fill="#000" stroke="#000" stroke-width="0.4" textLength="19.8" lengthAdjust="spacingAndGlyphs"  xml:space="preserve">3</text>
<g transform="translate(29.4,0) rotate(-90)">
<text x="-549.3" y="0" font-size="38.5" fill="#000" stroke="#000" stroke-width="0.4" textLength="21.7" lengthAdjust="spacingAndGlyphs"  xml:space="preserve">D</text>
<path d="M-505.9,-19.6 L-489,-2.7 M-505.9,-2.7 L-489,-19.6" stroke="#000" stroke-width="1.8"/>
<text x="-484.6" y="0" font-size="38.5" fill="#000" stroke="#000" stroke-width="0.4" textLength="18.8" lengthAdjust="spacingAndGlyphs"  xml:space="preserve">g</text>
<text x="-465.5" y="-10.9" font-size="24.8" fill="#000" stroke="#000" stroke-width="0.15" textLength="12.5" lengthAdjust="spacingAndGlyphs"  xml:space="preserve">4</text>
<text x="-451.5" y="0" font-size="38.5" fill="#000" stroke="#000" stroke-width="0.4" textLength="12.0" lengthAdjust="spacingAndGlyphs"  xml:space="preserve">(</text>
<use href="#MU" x="-435.6" y="0"/>
<text x="-409.2" y="10.3" font-size="23.6" fill="#000" textLength="27.9" lengthAdjust="spacingAndGlyphs" font-weight="bold" xml:space="preserve">DR</text>
<text x="-379.8" y="0" font-size="38.5" fill="#000" stroke="#000" stroke-width="0.4" textLength="12.0" lengthAdjust="spacingAndGlyphs"  xml:space="preserve">)</text>
<text x="-346.8" y="0" font-size="38.5" fill="#000" stroke="#000" stroke-width="0.4" textLength="22.2" lengthAdjust="spacingAndGlyphs"  xml:space="preserve">N</text>
<text x="-322.5" y="10.3" font-size="22" fill="#000" textLength="7.5" lengthAdjust="spacingAndGlyphs" font-weight="bold" xml:space="preserve">f</text>
<text x="-315.6" y="0" font-size="38.5" fill="#000" stroke="#000" stroke-width="0.4" textLength="20.5" lengthAdjust="spacingAndGlyphs"  xml:space="preserve">T</text>
</g>
<defs><g id="mu" fill="none" stroke-linejoin="round"><path d="M5.9,-10.6 L1.2,5" stroke-width="2.3"/><path d="M4.3,-5.2 C3.3,-1.6 4.4,-0.6 7.2,-0.6 C10,-0.6 12.2,-2.4 13.1,-5.5" stroke-width="2.1"/><path d="M15.2,-10.6 L13,-3 C12.5,-1.1 13.2,-0.7 14.2,-0.7 C15.2,-0.7 15.9,-1.2 16.6,-2.2" stroke-width="2.1"/><path d="M0.2,-14 H17" stroke-width="1.6"/></g></defs>
<g fill="#f00" stroke="#f00" class="s">
<g transform="translate(649.10,494.50) rotate(0)"><use href="#mu"/></g>
<g transform="translate(668.70,494.50) rotate(0)"><path d="M0,-7.7 H13.3 M0,-3.5 H13.3" stroke-width="1.9" fill="none"/></g>
<g transform="translate(686.00,494.50) rotate(0)"><text class="s" x="0" y="0" font-size="21.5" stroke-width="0.4">e</text></g>
<g transform="translate(698.60,494.50) rotate(0)"><text x="0" y="-6.3" font-size="14" font-weight="bold" stroke="none">1</text></g>
<g transform="translate(707.80,494.50) rotate(0)"><use href="#mu"/></g>
<g transform="translate(725.30,494.50) rotate(0)"><text x="0" y="7" font-size="14" font-weight="bold" stroke="none" textLength="18.4" lengthAdjust="spacingAndGlyphs">DR</text></g>
</g>
<g fill="#f00" stroke="#f00" class="s">
<g transform="translate(545.00,210.80) rotate(-62.7)"><use href="#mu"/></g>
<g transform="translate(552.97,192.89) rotate(-62.7)"><path d="M0,-7.7 H13.3 M0,-3.5 H13.3" stroke-width="1.9" fill="none"/></g>
<g transform="translate(560.01,177.09) rotate(-62.7)"><text class="s" x="0" y="0" font-size="21.5" stroke-width="0.4">e</text></g>
<g transform="translate(565.95,163.75) rotate(-62.7)"><path d="M0,-12 H7.2" stroke-width="1.7" fill="none"/></g>
<g transform="translate(570.67,153.16) rotate(-62.7)"><text x="0" y="-6.3" font-size="14" font-weight="bold" stroke="none">1</text></g>
<g transform="translate(573.51,146.76) rotate(-62.7)"><use href="#mu"/></g>
<g transform="translate(580.63,130.77) rotate(-62.7)"><text x="0" y="7" font-size="14" font-weight="bold" stroke="none" textLength="18.4" lengthAdjust="spacingAndGlyphs">DR</text></g>
</g>
<g fill="#f00" stroke="#f00" class="s">
<g transform="translate(648.20,295.80) rotate(-37)"><use href="#mu"/></g>
<g transform="translate(663.75,283.87) rotate(-37)"><path d="M0,-7.7 H13.3 M0,-3.5 H13.3" stroke-width="1.9" fill="none"/></g>
<g transform="translate(677.95,272.97) rotate(-37)"><use href="#mu"/></g>
<g transform="translate(691.83,262.32) rotate(-37)"><text x="0" y="7" font-size="14" font-weight="bold" stroke="none" textLength="18.4" lengthAdjust="spacingAndGlyphs">DR</text></g>
</g>
</svg></body></html>
